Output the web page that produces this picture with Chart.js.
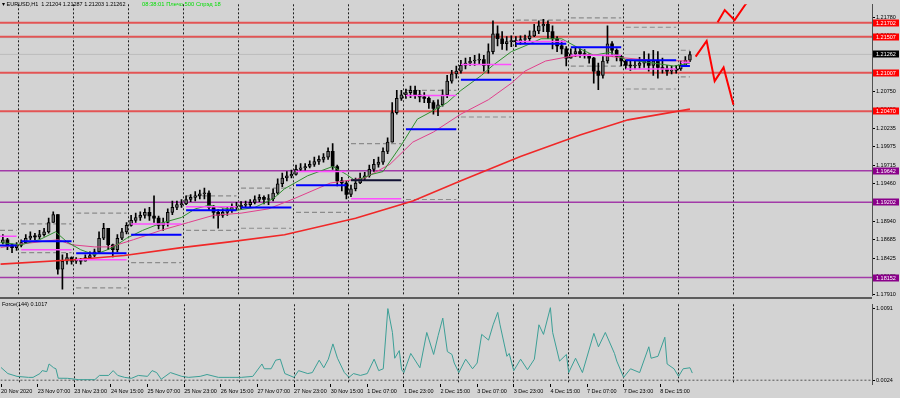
<!DOCTYPE html>
<html>
<head>
<meta charset="utf-8">
<script src="https://cdn.jsdelivr.net/npm/chart.js@4.4.1/dist/chart.umd.min.js"></script>
<style>
  html, body { margin: 0; padding: 0; background: #d3d3d3; }
  #wrap { position: relative; width: 900px; height: 398px; overflow: hidden; background: #d3d3d3;
          font-family: "Liberation Sans", Arial, sans-serif; }
  #main { position: absolute; left: 0; top: 0; }
  #force { position: absolute; left: 0; top: 300px; }
  .sep { position: absolute; left: 0; top: 297px; width: 872px; height: 2px; background: #5c5c5c; }
  .hdr { position: absolute; left: 2px; top: 1px; font-size: 5.5px; color: #000; white-space: pre; }
  .hdr2 { position: absolute; left: 142px; top: 1px; font-size: 5.8px; color: #00dd00; white-space: pre; }
  .flab { position: absolute; left: 2px; top: 301px; font-size: 5.5px; color: #000; white-space: pre; }
</style>
</head>
<body>
<div id="wrap">
  <canvas id="main" width="900" height="300"></canvas>
  <canvas id="force" width="900" height="98"></canvas>
  <div class="sep"></div>
  <div class="hdr">▾ EURUSD,H1  1.21204 1.21287 1.21203 1.21262</div>
  <div class="hdr2">08:38:01 Плечо 500 Спрэд 18</div>
  <div class="flab">Force(144) 0.1017</div>
</div>
<script>
// x axis is counted in H1 bars; every candle below covers two hourly bars
const tickBars = [0, 16, 32, 48, 64, 80, 96, 112, 128, 144, 160, 176, 192, 208, 224, 240, 256, 272, 288];
const tickLabels = ['20 Nov 2020', '23 Nov 07:00', '23 Nov 23:00', '24 Nov 15:00', '25 Nov 07:00',
  '25 Nov 23:00', '26 Nov 15:00', '27 Nov 07:00', '27 Nov 23:00', '30 Nov 15:00', '1 Dec 07:00',
  '1 Dec 23:00', '2 Dec 15:00', '3 Dec 07:00', '3 Dec 23:00', '4 Dec 15:00', '7 Dec 07:00',
  '7 Dec 23:00', '8 Dec 15:00'];
const dayBars = [8, 32, 56, 80, 104, 128, 152, 176, 200, 224, 248, 272, 296, 320];
const priceTicks = [1.21780, 1.21520, 1.21265, 1.21005, 1.20750, 1.20490, 1.20235, 1.19975,
  1.19715, 1.19460, 1.19200, 1.18940, 1.18685, 1.18425, 1.18170, 1.17910];

const opens = [1.1864,1.1868,1.1861,1.1857,1.1860,1.1864,1.1870,1.1873,1.1872,1.1875,
  1.1879,1.1892,1.1903,1.1827,1.1838,1.1843,1.1838,1.1839,1.1838,1.1843,
  1.1846,1.1851,1.1870,1.1884,1.1861,1.1854,1.1870,1.1879,1.1888,1.1895,
  1.1899,1.1902,1.1906,1.1901,1.1898,1.1888,1.1892,1.1906,1.1913,1.1917,
  1.1918,1.1924,1.1927,1.1929,1.1932,1.1933,1.1913,1.1906,1.1902,1.1906,
  1.1909,1.1913,1.1914,1.1916,1.1917,1.1920,1.1924,1.1927,1.1924,1.1925,
  1.1933,1.1946,1.1954,1.1957,1.1959,1.1966,1.1968,1.1970,1.1973,1.1977,
  1.1980,1.1983,1.1991,1.1970,1.1950,1.1947,1.1931,1.1939,1.1947,1.1954,
  1.1957,1.1966,1.1973,1.1976,1.1991,1.2004,1.2045,1.2065,1.2070,1.2073,
  1.2076,1.2070,1.2067,1.2065,1.2059,1.2051,1.2056,1.2070,1.2089,1.2099,
  1.2103,1.2111,1.2114,1.2117,1.2118,1.2119,1.2111,1.2130,1.2155,1.2148,
  1.2141,1.2144,1.2145,1.2144,1.2147,1.2148,1.2152,1.2159,1.2166,1.2168,
  1.2158,1.2148,1.2138,1.2134,1.2121,1.2127,1.2130,1.2127,1.2126,1.2121,
  1.2103,1.2097,1.2117,1.2141,1.2132,1.2123,1.2117,1.2111,1.2110,1.2111,
  1.2114,1.2117,1.2111,1.2117,1.2108,1.2106,1.2103,1.2104,1.2106,1.2111,
  1.2118];
const closes = [1.1868,1.1861,1.1857,1.1860,1.1864,1.1870,1.1873,1.1872,1.1875,1.1879,
  1.1892,1.1903,1.1827,1.1838,1.1843,1.1838,1.1839,1.1838,1.1843,1.1846,
  1.1851,1.1870,1.1884,1.1861,1.1854,1.1870,1.1879,1.1888,1.1895,1.1899,
  1.1902,1.1906,1.1901,1.1898,1.1888,1.1892,1.1906,1.1913,1.1917,1.1918,
  1.1924,1.1927,1.1929,1.1932,1.1933,1.1913,1.1906,1.1902,1.1906,1.1909,
  1.1913,1.1914,1.1916,1.1917,1.1920,1.1924,1.1927,1.1924,1.1925,1.1933,
  1.1946,1.1954,1.1957,1.1959,1.1966,1.1968,1.1970,1.1973,1.1977,1.1980,
  1.1983,1.1991,1.1970,1.1950,1.1947,1.1931,1.1939,1.1947,1.1954,1.1957,
  1.1966,1.1973,1.1976,1.1991,1.2004,1.2045,1.2065,1.2070,1.2073,1.2076,
  1.2070,1.2067,1.2065,1.2059,1.2051,1.2056,1.2070,1.2089,1.2099,1.2103,
  1.2111,1.2114,1.2117,1.2118,1.2119,1.2111,1.2130,1.2155,1.2148,1.2141,
  1.2144,1.2145,1.2144,1.2147,1.2148,1.2152,1.2159,1.2166,1.2168,1.2158,
  1.2148,1.2138,1.2134,1.2121,1.2127,1.2130,1.2127,1.2126,1.2121,1.2103,
  1.2097,1.2117,1.2141,1.2132,1.2123,1.2117,1.2111,1.2110,1.2111,1.2114,
  1.2117,1.2111,1.2117,1.2108,1.2106,1.2103,1.2104,1.2106,1.2111,1.2118,
  1.2126];
const highs = [1.1875,1.1870,1.1862,1.1864,1.1868,1.1875,1.1879,1.1877,1.1881,1.1884,
  1.1898,1.1907,1.1903,1.1847,1.1849,1.1844,1.1843,1.1842,1.1847,1.1851,
  1.1855,1.1879,1.1891,1.1884,1.1862,1.1875,1.1884,1.1892,1.1902,1.1905,
  1.1907,1.1911,1.1913,1.1929,1.1901,1.1898,1.1911,1.1922,1.1922,1.1924,
  1.1929,1.1931,1.1935,1.1937,1.1940,1.1936,1.1916,1.1910,1.1911,1.1914,
  1.1918,1.1920,1.1921,1.1922,1.1924,1.1929,1.1931,1.1929,1.1931,1.1939,
  1.1953,1.1961,1.1963,1.1965,1.1972,1.1974,1.1974,1.1978,1.1983,1.1985,
  1.1988,1.1996,1.2002,1.1972,1.1955,1.1950,1.1944,1.1954,1.1961,1.1962,
  1.1972,1.1980,1.1983,1.1996,1.2010,1.2059,1.2076,1.2076,1.2078,1.2082,
  1.2082,1.2076,1.2073,1.2067,1.2062,1.2063,1.2077,1.2097,1.2104,1.2110,
  1.2118,1.2121,1.2122,1.2125,1.2127,1.2125,1.2141,1.2173,1.2166,1.2158,
  1.2151,1.2152,1.2151,1.2152,1.2153,1.2159,1.2168,1.2173,1.2175,1.2173,
  1.2166,1.2151,1.2145,1.2137,1.2134,1.2136,1.2134,1.2133,1.2127,1.2122,
  1.2114,1.2123,1.2166,1.2144,1.2134,1.2125,1.2118,1.2117,1.2118,1.2122,
  1.2130,1.2127,1.2132,1.2130,1.2121,1.2111,1.2110,1.2111,1.2117,1.2123,
  1.2130];
const lows = [1.1862,1.1854,1.1850,1.1853,1.1858,1.1864,1.1868,1.1868,1.1869,1.1873,
  1.1877,1.1892,1.1820,1.1799,1.1834,1.1834,1.1835,1.1834,1.1838,1.1842,
  1.1844,1.1849,1.1868,1.1854,1.1844,1.1851,1.1868,1.1876,1.1887,1.1892,
  1.1895,1.1898,1.1895,1.1892,1.1883,1.1881,1.1887,1.1903,1.1910,1.1913,
  1.1917,1.1921,1.1922,1.1925,1.1925,1.1909,1.1898,1.1884,1.1899,1.1902,
  1.1906,1.1909,1.1911,1.1913,1.1914,1.1918,1.1921,1.1918,1.1917,1.1922,
  1.1931,1.1942,1.1950,1.1954,1.1958,1.1963,1.1965,1.1968,1.1970,1.1973,
  1.1976,1.1980,1.1966,1.1943,1.1936,1.1925,1.1928,1.1936,1.1946,1.1951,
  1.1955,1.1963,1.1969,1.1973,1.1988,1.2004,1.2043,1.2062,1.2065,1.2066,
  1.2065,1.2060,1.2059,1.2051,1.2043,1.2041,1.2054,1.2066,1.2086,1.2093,
  1.2100,1.2106,1.2111,1.2111,1.2112,1.2103,1.2100,1.2127,1.2138,1.2133,
  1.2132,1.2137,1.2137,1.2140,1.2141,1.2144,1.2151,1.2155,1.2158,1.2148,
  1.2134,1.2130,1.2127,1.2110,1.2121,1.2123,1.2122,1.2121,1.2114,1.2086,
  1.2077,1.2093,1.2114,1.2123,1.2117,1.2110,1.2106,1.2104,1.2106,1.2107,
  1.2108,1.2103,1.2097,1.2093,1.2100,1.2097,1.2099,1.2100,1.2104,1.2110,
  1.2116];

// moving averages (bar, value)
const greenBars = [0,9,17,24,29,35,41,49,55,62,70,79,85,91,103,111,119,124,134,145,151,155,162,167,175,182,189,195,201,210,215,223,229,236,245,253,259,266,273,283,294,301];
const greenVals = [1.1864,1.1861,1.1868,1.1879,1.1865,1.1854,1.1847,1.1857,1.1870,1.1881,1.1891,1.1899,1.1911,1.1916,1.1909,1.1913,1.1925,1.1939,1.1957,1.1970,1.1959,1.1950,1.1959,1.1963,1.2000,1.2036,1.2048,1.2059,1.2076,1.2097,1.2111,1.2130,1.2138,1.2148,1.2148,1.2134,1.2125,1.2129,1.2119,1.2115,1.2110,1.2114];
const pinkBars = [0,9,25,31,41,48,58,70,82,93,105,117,128,144,159,170,180,189,201,213,223,229,238,248,259,270,284,301];
const pinkVals = [1.1857,1.1862,1.1868,1.1861,1.1858,1.1858,1.1868,1.1881,1.1892,1.1902,1.1905,1.1911,1.1925,1.1947,1.1954,1.1973,1.2004,1.2018,1.2043,1.2063,1.2086,1.2103,1.2117,1.2123,1.2126,1.2122,1.2118,1.2117];
const redBars = [0,32,54,79,100,124,155,180,201,227,253,274,301];
const redVals = [1.1834,1.1840,1.1846,1.1857,1.1865,1.1875,1.1898,1.1922,1.1950,1.1984,1.2014,1.2035,1.2050];

// daily levels, one entry per day (first entry = day before the first grid line)
const blueDaily = [1.1860,1.1866,1.1849,1.1875,1.1909,1.1913,1.1944,null,1.2022,1.2091,1.2141,1.2136,1.2118,1.2110];
const darkDaily = [null,null,null,null,null,null,null,1.1951,null,null,null,null,null,null];
const pinkDaily = [1.1873,1.1854,1.1840,1.1890,1.1914,null,1.1963,1.1925,1.2069,1.2112,1.2144,1.2125,1.2106,1.2115];
const greyDailyA = [1.1881,1.1890,1.1905,null,1.1929,1.1940,1.1906,1.2002,1.2076,1.2039,1.2174,1.2177,1.2164,1.2132];
const greyDailyB = [null,1.1850,1.1801,1.1836,1.1881,1.1884,null,null,1.1924,null,null,1.2110,1.2078,1.2095];

// horizontal price levels
const redLevels = [1.21702, 1.21507, 1.21007, 1.20470];
const purpleLevels = [1.19642, 1.19202, 1.18152];
const cyanLevel = 1.21495;
const bidPrice = 1.21262;

// hand-drawn forecast zigzags
const zigLowBars = [303.5, 308.3, 311.8, 315.7, 320];
const zigLowVals = [1.2123, 1.2145, 1.2089, 1.2108, 1.2056];
const zigHighBars = [313.1, 316.2, 320.5, 325.3, 327.5];
const zigHighVals = [1.2171, 1.2188, 1.2174, 1.2196, 1.2203];

// Force(144) indicator
const forceBars = [0,3,7,12,14,17,18,20,21,23,24,25,29,34,41,43,47,49,51,54,57,60,64,66,68,70,74,79,82,87,90,95,100,105,110,114,115,118,120,122,124,128,130,134,136,139,141,143,145,147,150,152,154,157,160,163,165,167,169,171,172,174,175,176,179,183,186,189,191,193,195,197,198,200,203,206,208,210,213,215,217,218,221,222,224,227,230,233,235,237,240,241,244,247,248,251,254,259,261,264,268,269,272,275,279,283,284,287,290,291,294,296,298,301,302];
const forceVals = [0.18,0.095,0.056,0.042,0.042,0.095,0.136,0.122,0.229,0.176,0.162,0.03,0.029,0.01,0.01,0.069,0.069,0.136,0.069,0.042,0.029,0.069,0.056,0.136,0.109,0.016,0.109,0.056,0.042,0.056,0.082,0.042,0.042,0.042,0.056,0.229,0.162,0.162,0.282,0.296,0.095,0.042,0.136,0.095,0.109,0.282,0.176,0.296,0.509,0.309,0.109,0.042,0.095,0.069,0.095,0.296,0.136,0.162,1.002,0.669,0.309,0.416,0.149,0.109,0.376,0.176,0.669,0.362,0.629,0.869,0.402,0.362,0.242,0.109,0.296,0.162,0.242,0.642,0.562,0.776,0.949,0.776,0.336,0.376,0.136,0.296,0.149,0.296,0.776,0.642,1.015,0.669,0.269,0.362,0.109,0.309,0.109,0.656,0.469,0.669,0.376,0.269,0.042,0.162,0.109,0.469,0.309,0.336,0.602,0.229,0.162,0.056,0.162,0.176,0.102];
const forceTicks = [1.0091, 0.0024];
const forceLevel = 0.0024;

const X_MIN = -0.25, X_MAX = 380.5;
const LAST_BAR = 2 * (closes.length - 1) + 1;

Chart.defaults.font.family = '"Liberation Sans", Arial, sans-serif';
Chart.defaults.font.size = 5.5;
Chart.defaults.color = '#000';

const pairs = (xs, ys) => xs.map((x, i) => ({ x: x, y: ys[i] }));
const flat = v => [{ x: X_MIN, y: v }, { x: X_MAX, y: v }];

function segData(levels) {
  const pts = [];
  levels.forEach((v, i) => {
    if (v === null) return;
    const a = i === 0 ? X_MIN : dayBars[i - 1] + 1;
    const b = Math.min(dayBars[i] - 1, LAST_BAR);
    pts.push({ x: a, y: v }, { x: b, y: v }, { x: b, y: null });
  });
  return pts;
}

function line(data, color, width, order, dash) {
  return { type: 'line', data: data, borderColor: color, borderWidth: width, pointRadius: 0,
    tension: 0, fill: false, order: order, borderDash: dash || [], spanGaps: false };
}

const bull = closes.map((c, i) => c >= opens[i]);
const wickData = closes.map((c, i) => ({ x: 2 * i + 1, y: [lows[i], highs[i]] }));
const bodyData = closes.map((c, i) => ({ x: 2 * i + 1, y: [opens[i], c] }));

// coloured price tags on the right scale
const priceTags = {
  id: 'priceTags',
  afterDraw(chart) {
    const ys = chart.scales.y, ctx = chart.ctx, left = chart.chartArea.right + 1;
    const tags = redLevels.map(v => [v, '#ff0000'])
      .concat([[bidPrice, '#000000']])
      .concat(purpleLevels.map(v => [v, '#8a008a']));
    ctx.save();
    ctx.font = '5.5px "Liberation Sans", Arial, sans-serif';
    ctx.textBaseline = 'middle';
    tags.forEach(t => {
      const y = Math.round(ys.getPixelForValue(t[0]));
      ctx.fillStyle = t[1];
      ctx.fillRect(left, y - 3.5, 26, 7);
      ctx.fillStyle = '#ffffff';
      ctx.fillText(t[0].toFixed(5), left + 3, y + 0.5);
    });
    ctx.restore();
  }
};

const datasets = [];
datasets.push(line(pairs(zigLowBars, zigLowVals), '#ff0000', 2, 0));
datasets.push(line(pairs(zigHighBars, zigHighVals), '#ff0000', 2, 0));
datasets.push(line(segData(blueDaily), '#0000ff', 2, 1));
datasets.push(line(segData(darkDaily), '#111133', 2, 1));
datasets.push(line(segData(pinkDaily), '#ff4dff', 1.5, 1));
datasets.push(line(segData(greyDailyA), '#8c8c8c', 1.2, 6, [5, 3]));
datasets.push(line(segData(greyDailyB), '#8c8c8c', 1.2, 6, [5, 3]));
datasets.push(line(pairs(greenBars, greenVals), '#2f8f2f', 1, 2));
datasets.push(line(pairs(pinkBars, pinkVals), '#e0408c', 1, 2));
datasets.push(line(pairs(redBars, redVals), '#f02828', 1.6, 2));
datasets.push({ type: 'bar', data: bodyData, order: 3, grouped: false, barThickness: 3, minBarLength: 1,
  backgroundColor: c => bull[c.dataIndex] ? '#6f6f6f' : '#000000',
  borderColor: '#000000', borderWidth: c => bull[c.dataIndex] ? 1 : 0, borderSkipped: false });
datasets.push({ type: 'bar', data: wickData, order: 4, grouped: false, barThickness: 1,
  backgroundColor: '#000000', borderWidth: 0 });
redLevels.forEach(v => datasets.push(line(flat(v), '#e35454', 2, 7)));
datasets.push(line(flat(cyanLevel), '#9ad6d6', 1, 7));
datasets.push(line(flat(bidPrice), '#bcbcbc', 1, 7));
purpleLevels.forEach(v => datasets.push(line(flat(v), '#a23aa8', 1.5, 7)));

new Chart(document.getElementById('main'), {
  type: 'bar',
  data: { datasets: datasets },
  options: {
    responsive: false, animation: false, events: [],
    layout: { padding: { left: 0, right: 0, top: 0, bottom: 3 } },
    plugins: { legend: { display: false }, tooltip: { enabled: false } },
    scales: {
      x: {
        type: 'linear', min: X_MIN, max: X_MAX, offset: false,
        afterBuildTicks: s => { s.ticks = dayBars.map(v => ({ value: v })); },
        afterFit: s => { s.height = 0; },
        ticks: { display: false },
        grid: { color: '#1e1e1e', lineWidth: 1, drawTicks: false, offset: false },
        border: { display: false, dash: [2, 2] }
      },
      y: {
        type: 'linear', position: 'right', min: 1.1790, max: 1.2196,
        afterBuildTicks: s => { s.ticks = priceTicks.map(v => ({ value: v })); },
        afterFit: s => { s.width = 28; },
        ticks: { autoSkip: false, padding: 1, callback: v => v.toFixed(5) },
        grid: { drawOnChartArea: false, drawTicks: true, tickLength: 3, tickColor: '#000' },
        border: { display: true, color: '#505050', width: 1 }
      }
    }
  },
  plugins: [priceTags]
});

new Chart(document.getElementById('force'), {
  type: 'line',
  data: {
    datasets: [
      line(pairs(forceBars, forceVals), '#3c9f96', 1, 0),
      line(flat(forceLevel), '#555555', 1, 1, [2, 2])
    ]
  },
  options: {
    responsive: false, animation: false, events: [],
    layout: { padding: 0 },
    plugins: { legend: { display: false }, tooltip: { enabled: false } },
    scales: {
      x: {
        type: 'linear', min: X_MIN, max: X_MAX, offset: false,
        afterBuildTicks: s => { s.ticks = tickBars.map(v => ({ value: v })); },
        afterFit: s => { s.height = 14; },
        ticks: { autoSkip: false, maxRotation: 0, align: 'start', padding: 1,
                 callback: (v, i) => tickLabels[i] },
        grid: { drawOnChartArea: false, drawTicks: true, tickLength: 3, tickColor: '#000' },
        border: { display: false }
      },
      xg: {
        type: 'linear', position: 'bottom', min: X_MIN, max: X_MAX, offset: false,
        afterBuildTicks: s => { s.ticks = dayBars.map(v => ({ value: v })); },
        afterFit: s => { s.height = 0; },
        ticks: { display: false },
        grid: { color: '#1e1e1e', lineWidth: 1, drawTicks: false },
        border: { display: false, dash: [2, 2] }
      },
      y: {
        type: 'linear', position: 'right', min: -0.0506, max: 1.0621,
        afterBuildTicks: s => { s.ticks = forceTicks.map(v => ({ value: v })); },
        afterFit: s => { s.width = 28; },
        ticks: { autoSkip: false, padding: 1, callback: v => v.toFixed(4) },
        grid: { drawOnChartArea: false, drawTicks: true, tickLength: 3, tickColor: '#000' },
        border: { display: true, color: '#505050', width: 1 }
      }
    }
  }
});
</script>
</body>
</html>
